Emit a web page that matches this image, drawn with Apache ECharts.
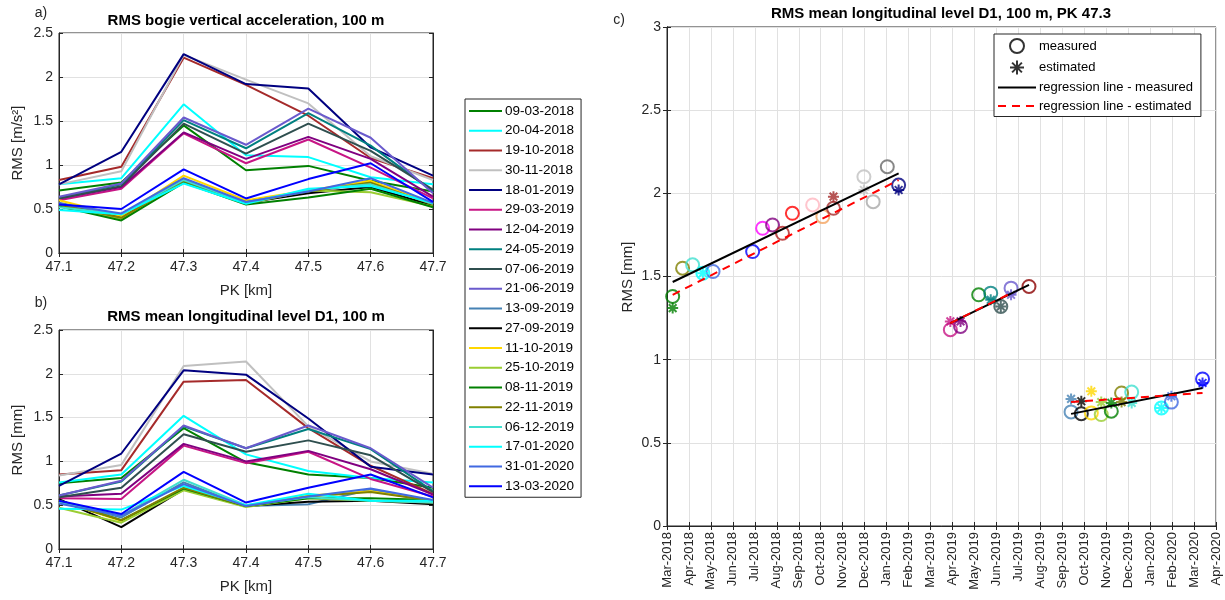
<!DOCTYPE html>
<html>
<head>
<meta charset="utf-8">
<script src="https://cdn.jsdelivr.net/npm/echarts@6/dist/echarts.min.js"></script>
<style>
html,body{margin:0;padding:0;background:#fff;}
#main{width:1225px;height:600px;}
</style>
</head>
<body>
<div id="main"></div>
<script>
// PK positions (km)
var pk = ['47.1','47.2','47.3','47.4','47.5','47.6','47.7'];
// measuring runs (legend of panels a, b)
var runDates = ['09-03-2018','20-04-2018','19-10-2018','30-11-2018','18-01-2019','29-03-2019','12-04-2019','24-05-2019','07-06-2019','21-06-2019',
	'13-09-2019','27-09-2019','11-10-2019','25-10-2019','08-11-2019','22-11-2019','06-12-2019','17-01-2020','31-01-2020','13-03-2020'];
var runColors = ['#008000','#00FFFF','#A52A2A','#C0C0C0','#000080','#C71585','#800080','#008080','#2F4F4F','#6A5ACD',
	'#4682B4','#000000','#FFD700','#9ACD32','#008000','#808000','#40E0D0','#00FFFF','#4169E1','#0000FF'];
// a) RMS bogie vertical acceleration [m/s2]
var accel = [
	[0.71,0.80,1.45,0.94,0.99,0.82,0.70],
	[0.78,0.85,1.69,1.11,1.09,0.86,0.78],
	[0.83,0.98,2.22,1.91,1.56,1.08,0.85],
	[0.78,0.93,2.25,1.97,1.70,1.10,0.83],
	[0.78,1.15,2.26,1.92,1.87,1.20,0.88],
	[0.60,0.73,1.36,1.02,1.29,0.97,0.62],
	[0.62,0.75,1.37,1.07,1.32,1.07,0.64],
	[0.63,0.78,1.51,1.19,1.59,1.22,0.70],
	[0.62,0.76,1.47,1.13,1.47,1.16,0.72],
	[0.64,0.79,1.54,1.23,1.64,1.31,0.68],
	[0.57,0.43,0.84,0.57,0.69,0.80,0.56],
	[0.55,0.40,0.82,0.57,0.68,0.75,0.54],
	[0.60,0.42,0.88,0.60,0.71,0.82,0.56],
	[0.53,0.39,0.80,0.56,0.71,0.69,0.53],
	[0.53,0.37,0.80,0.55,0.63,0.73,0.52],
	[0.55,0.40,0.82,0.58,0.70,0.80,0.55],
	[0.52,0.44,0.83,0.57,0.72,0.78,0.56],
	[0.49,0.44,0.79,0.56,0.73,0.76,0.57],
	[0.56,0.45,0.85,0.58,0.70,0.85,0.57],
	[0.55,0.50,0.95,0.62,0.84,1.02,0.58]
];
// b) RMS mean longitudinal level D1 [mm]
var level = [
	[0.75,0.81,1.38,0.99,0.85,0.81,0.70],
	[0.76,0.85,1.52,1.08,0.89,0.81,0.76],
	[0.85,0.90,1.91,1.93,1.38,0.95,0.63],
	[0.84,0.96,2.09,2.14,1.40,1.00,0.86],
	[0.72,1.09,2.04,1.99,1.49,0.94,0.85],
	[0.58,0.57,1.18,0.98,1.11,0.80,0.60],
	[0.60,0.63,1.20,1.00,1.12,0.91,0.62],
	[0.61,0.77,1.40,1.15,1.37,1.14,0.66],
	[0.59,0.70,1.31,1.11,1.24,1.07,0.65],
	[0.61,0.78,1.41,1.15,1.41,1.15,0.70],
	[0.55,0.36,0.76,0.49,0.51,0.68,0.55],
	[0.57,0.25,0.68,0.49,0.54,0.55,0.51],
	[0.55,0.32,0.68,0.49,0.61,0.66,0.55],
	[0.47,0.30,0.67,0.48,0.58,0.55,0.53],
	[0.55,0.33,0.69,0.49,0.58,0.58,0.56],
	[0.55,0.33,0.70,0.49,0.60,0.65,0.55],
	[0.53,0.38,0.79,0.50,0.59,0.55,0.53],
	[0.46,0.45,0.72,0.50,0.63,0.55,0.55],
	[0.52,0.38,0.74,0.49,0.60,0.69,0.56],
	[0.55,0.40,0.88,0.53,0.70,0.85,0.59]
];
// c) measured RMS at PK 47.3
var measDates = ['2018-03-09','2018-03-23','2018-04-06','2018-04-20','2018-05-04','2018-06-28','2018-07-12','2018-07-26','2018-08-09','2018-08-23',
	'2018-09-20','2018-10-04','2018-10-19','2018-11-30','2018-12-13','2019-01-02','2019-01-18',
	'2019-03-29','2019-04-12','2019-05-07','2019-05-24','2019-06-07','2019-06-21','2019-07-16',
	'2019-09-13','2019-09-27','2019-10-11','2019-10-25','2019-11-08','2019-11-22','2019-12-06','2020-01-17','2020-01-31','2020-03-13'];
var measVals = [1.38,1.55,1.57,1.52,1.53,1.65,1.79,1.81,1.76,1.88,
	1.93,1.86,1.91,2.10,1.95,2.16,2.05,
	1.18,1.20,1.39,1.40,1.32,1.43,1.44,
	0.686,0.675,0.68,0.67,0.69,0.80,0.805,0.71,0.745,0.884];
var measColors = ['#008000','#808000','#40E0D0','#00FFFF','#4169E1','#0000FF','#FF00FF','#800080','#B22222','#FF0000',
	'#FFB6C1','#F4A460','#A52A2A','#C0C0C0','#A9A9A9','#696969','#000080',
	'#C71585','#800080','#008000','#008080','#2F4F4F','#6A5ACD','#8B0000',
	'#4682B4','#000000','#FFD700','#9ACD32','#008000','#808000','#40E0D0','#00FFFF','#4169E1','#0000FF'];
// c) estimated RMS, one per run of panels a/b
var estDates = ['2018-03-09','2018-04-20','2018-10-19','2018-11-30','2019-01-18','2019-03-29','2019-04-12','2019-05-24','2019-06-07','2019-06-21',
	'2019-09-13','2019-09-27','2019-10-11','2019-10-25','2019-11-08','2019-11-22','2019-12-06','2020-01-17','2020-01-31','2020-03-13'];
var estVals = [1.31,1.52,1.98,2.02,2.02,1.23,1.23,1.36,1.32,1.39,
	0.764,0.75,0.81,0.745,0.74,0.745,0.74,0.71,0.78,0.86];
// regression lines: [start date, start value, end date, end value]
var regMeas = [['2018-03-09',1.467,'2019-01-18',2.12],['2019-03-29',1.22,'2019-07-16',1.45],['2019-09-13',0.674,'2020-03-13',0.83]];
var regEst = [['2018-03-09',1.39,'2019-01-18',2.08],['2019-03-29',1.22,'2019-06-21',1.40],['2019-09-13',0.745,'2020-03-13',0.80]];
var monthLabels = ['Mar-2018','Apr-2018','May-2018','Jun-2018','Jul-2018','Aug-2018','Sep-2018','Oct-2018','Nov-2018','Dec-2018',
	'Jan-2019','Feb-2019','Mar-2019','Apr-2019','May-2019','Jun-2019','Jul-2019','Aug-2019','Sep-2019','Oct-2019','Nov-2019','Dec-2019',
	'Jan-2020','Feb-2020','Mar-2020','Apr-2020'];

var FONT = '"Liberation Sans", Arial, sans-serif';
var AX = '#262626';
var GRIDC = '#e1e1e1';
var ASTER = 'path://M5,0L5,10M0,5L10,5M1.5,1.5L8.5,8.5M1.5,8.5L8.5,1.5';

// date -> months since 1 Mar 2018
function toM(s) {
	var p = s.split('-');
	var y = +p[0], m = +p[1], d = +p[2];
	var dim = new Date(y, m, 0).getDate();
	return (y - 2018) * 12 + (m - 3) + (d - 1) / dim;
}

var chart = echarts.init(document.getElementById('main'));

function catAxis(grid, pos, show) {
	return {
		type: 'category', gridIndex: grid, position: pos, data: pk, boundaryGap: false,
		axisLine: {lineStyle: {color: AX}},
		axisTick: {show: true, inside: true, length: 4, lineStyle: {color: AX}},
		axisLabel: {show: show, fontFamily: FONT, fontSize: 14, color: AX, margin: 7},
		splitLine: {show: show, lineStyle: {color: GRIDC}}
	};
}
function valAxis(grid, pos, show, min, max, itv, extra) {
	var a = {
		type: 'value', gridIndex: grid, position: pos, min: min, max: max, interval: itv,
		axisLine: {show: true, lineStyle: {color: AX}},
		axisTick: {show: true, inside: true, length: 4, lineStyle: {color: AX}},
		axisLabel: {show: show, fontFamily: FONT, fontSize: 14, color: AX, margin: 6},
		splitLine: {show: show, lineStyle: {color: GRIDC}}
	};
	if (extra) for (var k in extra) a[k] = extra[k];
	return a;
}

var series = [];
for (var i = 0; i < runDates.length; i++) {
	series.push({name: runDates[i], type: 'line', xAxisIndex: 0, yAxisIndex: 0, data: accel[i],
		symbol: 'none', color: runColors[i], lineStyle: {width: 2}, animation: false});
	series.push({name: runDates[i], type: 'line', xAxisIndex: 2, yAxisIndex: 2, data: level[i],
		symbol: 'none', color: runColors[i], lineStyle: {width: 2}, animation: false});
}

var measData = [];
for (var i = 0; i < measDates.length; i++) {
	measData.push({value: [toM(measDates[i]), measVals[i]], itemStyle: {borderColor: measColors[i]}});
}
var estData = [];
for (var i = 0; i < estDates.length; i++) {
	estData.push({value: [toM(estDates[i]), estVals[i]], itemStyle: {borderColor: runColors[i]}});
}
series.push({name: 'measured', type: 'scatter', xAxisIndex: 4, yAxisIndex: 4, data: measData,
	symbol: 'circle', symbolSize: 13, z: 3, animation: false,
	itemStyle: {color: 'rgba(0,0,0,0)', borderColor: '#000', borderWidth: 2}});
series.push({name: 'estimated', type: 'scatter', xAxisIndex: 4, yAxisIndex: 4, data: estData,
	symbol: ASTER, symbolSize: 11, symbolKeepAspect: true, z: 4, animation: false,
	itemStyle: {color: 'rgba(0,0,0,0)', borderColor: '#000', borderWidth: 2}});
regMeas.forEach(function(r) {
	series.push({name: 'regression line - measured', type: 'line', xAxisIndex: 4, yAxisIndex: 4,
		data: [[toM(r[0]), r[1]], [toM(r[2]), r[3]]], symbol: 'none', z: 5, animation: false,
		color: '#000', lineStyle: {width: 2, color: '#000'}});
});
regEst.forEach(function(r) {
	series.push({name: 'regression line - estimated', type: 'line', xAxisIndex: 4, yAxisIndex: 4,
		data: [[toM(r[0]), r[1]], [toM(r[2]), r[3]]], symbol: 'none', z: 5, animation: false,
		color: '#FF0000', lineStyle: {width: 2, color: '#FF0000', type: [8, 6]}});
});

function txt(t, x, y, size, bold, rot) {
	return {type: 'text', x: x, y: y, rotation: rot || 0, z: 10,
		style: {text: t, fill: bold ? '#000' : AX, font: (bold ? 'bold ' : '') + size + 'px ' + FONT,
			textAlign: 'center', textVerticalAlign: 'middle'}};
}

var option = {
	backgroundColor: '#fff',
	animation: false,
	grid: [
		{left: 59, top: 33, width: 374, height: 220, show: true, borderColor: AX, borderWidth: 1, backgroundColor: 'transparent'},
		{left: 59, top: 330, width: 374, height: 219, show: true, borderColor: AX, borderWidth: 1, backgroundColor: 'transparent'},
		{left: 667, top: 27, width: 549, height: 499, show: true, borderColor: AX, borderWidth: 1, backgroundColor: 'transparent'}
	],
	xAxis: [
		catAxis(0, 'bottom', true), catAxis(0, 'top', false),
		catAxis(1, 'bottom', true), catAxis(1, 'top', false),
		valAxis(2, 'bottom', true, 0, 25, 1, {axisLabel: {show: true, rotate: 90, fontFamily: FONT, fontSize: 13, color: AX, margin: 6,
			formatter: function(v) { return monthLabels[Math.round(v)]; }}}),
		valAxis(2, 'top', false, 0, 25, 1)
	],
	yAxis: [
		valAxis(0, 'left', true, 0, 2.5, 0.5), valAxis(0, 'right', false, 0, 2.5, 0.5),
		valAxis(1, 'left', true, 0, 2.5, 0.5), valAxis(1, 'right', false, 0, 2.5, 0.5),
		valAxis(2, 'left', true, 0, 3, 0.5), valAxis(2, 'right', false, 0, 3, 0.5)
	],
	legend: [
		{data: runDates, orient: 'vertical', left: 465, top: 99, padding: [5, 7, 4, 3],
			itemWidth: 33, itemHeight: 14, itemGap: 5.75, borderColor: AX, borderWidth: 1,
			itemStyle: {opacity: 0}, lineStyle: {width: 2},
			textStyle: {fontFamily: FONT, fontSize: 13.5, color: '#000', padding: [0, 0, 0, -2]}, selectedMode: false},
		{data: ['measured', 'estimated',
				{name: 'regression line - measured', itemStyle: {opacity: 0}},
				{name: 'regression line - estimated', itemStyle: {opacity: 0}}],
			orient: 'vertical', left: 994, top: 34, padding: [4, 8, 4, 3],
			itemWidth: 38, itemHeight: 14, itemGap: 5.5, borderColor: AX, borderWidth: 1, backgroundColor: '#fff',
			textStyle: {fontFamily: FONT, fontSize: 13, color: '#000', padding: [0, 0, 0, -2]}, selectedMode: false}
	],
	graphic: [
		txt('a)', 41, 13, 14, false),
		txt('RMS bogie vertical acceleration, 100 m', 246, 21, 15, true),
		txt('RMS [m/s²]', 18, 143, 15, false, Math.PI / 2),
		txt('PK [km]', 246, 291, 15, false),
		txt('b)', 41, 303, 14, false),
		txt('RMS mean longitudinal level D1, 100 m', 246, 317, 15, true),
		txt('RMS [mm]', 18, 440, 15, false, Math.PI / 2),
		txt('PK [km]', 246, 587, 15, false),
		txt('c)', 619, 20, 14, false),
		txt('RMS mean longitudinal level D1, 100 m, PK 47.3', 941, 14, 15, true),
		txt('RMS [mm]', 628, 277, 15, false, Math.PI / 2)
	],
	series: series
};
chart.setOption(option);
</script>
</body>
</html>
